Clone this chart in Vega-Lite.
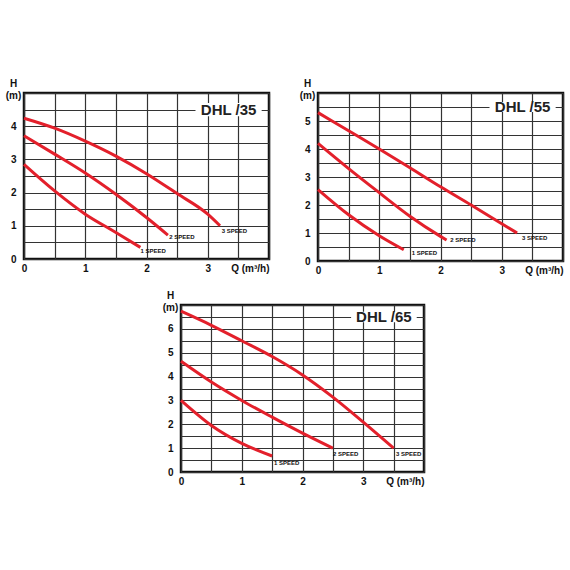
{
  "$schema": "https://vega.github.io/schema/vega-lite/v6.json",
  "background": "white",
  "padding": {"left": 3, "top": 76, "right": 0, "bottom": 5},
  "config": {
    "view": {"stroke": "#111", "strokeWidth": 2.5, "fill": "white"},
    "font": "Liberation Sans",
    "axis": {
      "grid": true,
      "gridColor": "#333",
      "gridWidth": 1.2,
      "gridOpacity": 1,
      "ticks": false,
      "domain": false,
      "labelFont": "Liberation Sans",
      "labelFontWeight": "bold",
      "labelFontSize": 10,
      "labelColor": "#111",
      "labelFlush": false,
      "labelOverlap": false,
      "title": null
    }
  },
  "datasets": {
    "curves": [
      {"model": "DHL /35", "speed": "3", "q": 0, "h": 4.24},
      {"model": "DHL /35", "speed": "3", "q": 0.5, "h": 3.94},
      {"model": "DHL /35", "speed": "3", "q": 1, "h": 3.55},
      {"model": "DHL /35", "speed": "3", "q": 1.5, "h": 3.1},
      {"model": "DHL /35", "speed": "3", "q": 2, "h": 2.57},
      {"model": "DHL /35", "speed": "3", "q": 2.5, "h": 1.97},
      {"model": "DHL /35", "speed": "3", "q": 3, "h": 1.35},
      {"model": "DHL /35", "speed": "3", "q": 3.2, "h": 1.0},
      {"model": "DHL /35", "speed": "2", "q": 0, "h": 3.71},
      {"model": "DHL /35", "speed": "2", "q": 0.5, "h": 3.16},
      {"model": "DHL /35", "speed": "2", "q": 1, "h": 2.59},
      {"model": "DHL /35", "speed": "2", "q": 1.5, "h": 1.95},
      {"model": "DHL /35", "speed": "2", "q": 2, "h": 1.25},
      {"model": "DHL /35", "speed": "2", "q": 2.35, "h": 0.72},
      {"model": "DHL /35", "speed": "1", "q": 0, "h": 2.85},
      {"model": "DHL /35", "speed": "1", "q": 0.5, "h": 2.05},
      {"model": "DHL /35", "speed": "1", "q": 1, "h": 1.35},
      {"model": "DHL /35", "speed": "1", "q": 1.5, "h": 0.8},
      {"model": "DHL /35", "speed": "1", "q": 1.9, "h": 0.35},
      {"model": "DHL /55", "speed": "3", "q": 0, "h": 5.3},
      {"model": "DHL /55", "speed": "3", "q": 0.5, "h": 4.65},
      {"model": "DHL /55", "speed": "3", "q": 1, "h": 4.0},
      {"model": "DHL /55", "speed": "3", "q": 1.5, "h": 3.33},
      {"model": "DHL /55", "speed": "3", "q": 2, "h": 2.65},
      {"model": "DHL /55", "speed": "3", "q": 2.5, "h": 2.0},
      {"model": "DHL /55", "speed": "3", "q": 3, "h": 1.33},
      {"model": "DHL /55", "speed": "3", "q": 3.25, "h": 1.0},
      {"model": "DHL /55", "speed": "2", "q": 0, "h": 4.2},
      {"model": "DHL /55", "speed": "2", "q": 0.5, "h": 3.3},
      {"model": "DHL /55", "speed": "2", "q": 1, "h": 2.44},
      {"model": "DHL /55", "speed": "2", "q": 1.5, "h": 1.6},
      {"model": "DHL /55", "speed": "2", "q": 2, "h": 0.88},
      {"model": "DHL /55", "speed": "2", "q": 2.1, "h": 0.75},
      {"model": "DHL /55", "speed": "1", "q": 0, "h": 2.55},
      {"model": "DHL /55", "speed": "1", "q": 0.5, "h": 1.65},
      {"model": "DHL /55", "speed": "1", "q": 1, "h": 0.9},
      {"model": "DHL /55", "speed": "1", "q": 1.4, "h": 0.4},
      {"model": "DHL /65", "speed": "3", "q": 0, "h": 6.74},
      {"model": "DHL /65", "speed": "3", "q": 0.5, "h": 6.15},
      {"model": "DHL /65", "speed": "3", "q": 1, "h": 5.5},
      {"model": "DHL /65", "speed": "3", "q": 1.5, "h": 4.84},
      {"model": "DHL /65", "speed": "3", "q": 2, "h": 4.07},
      {"model": "DHL /65", "speed": "3", "q": 2.5, "h": 3.14},
      {"model": "DHL /65", "speed": "3", "q": 3, "h": 2.09},
      {"model": "DHL /65", "speed": "3", "q": 3.5, "h": 1.0},
      {"model": "DHL /65", "speed": "2", "q": 0, "h": 4.64},
      {"model": "DHL /65", "speed": "2", "q": 0.5, "h": 3.77},
      {"model": "DHL /65", "speed": "2", "q": 1, "h": 3.0},
      {"model": "DHL /65", "speed": "2", "q": 1.5, "h": 2.3},
      {"model": "DHL /65", "speed": "2", "q": 2, "h": 1.63},
      {"model": "DHL /65", "speed": "2", "q": 2.5, "h": 1.0},
      {"model": "DHL /65", "speed": "1", "q": 0, "h": 3.0},
      {"model": "DHL /65", "speed": "1", "q": 0.5, "h": 1.95},
      {"model": "DHL /65", "speed": "1", "q": 1, "h": 1.2},
      {"model": "DHL /65", "speed": "1", "q": 1.5, "h": 0.67}
    ],
    "labels": [
      {"model": "DHL /35", "text": "1 SPEED", "q": 1.9, "h": 0.25},
      {"model": "DHL /35", "text": "2 SPEED", "q": 2.37, "h": 0.67},
      {"model": "DHL /35", "text": "3 SPEED", "q": 3.23, "h": 0.85},
      {"model": "DHL /55", "text": "1 SPEED", "q": 1.53, "h": 0.29},
      {"model": "DHL /55", "text": "2 SPEED", "q": 2.16, "h": 0.75},
      {"model": "DHL /55", "text": "3 SPEED", "q": 3.33, "h": 0.82},
      {"model": "DHL /65", "text": "1 SPEED", "q": 1.53, "h": 0.36},
      {"model": "DHL /65", "text": "2 SPEED", "q": 2.5, "h": 0.75},
      {"model": "DHL /65", "text": "3 SPEED", "q": 3.54, "h": 0.75}
    ],
    "boxes": [
      {"model": "DHL /35", "q": 2.8, "q2": 3.88, "h": 4.3, "h2": 4.7, "qc": 3.34, "hc": 4.5},
      {"model": "DHL /55", "q": 2.8, "q2": 3.88, "h": 5.32, "h2": 5.68, "qc": 3.34, "hc": 5.5},
      {"model": "DHL /65", "q": 2.8, "q2": 3.88, "h": 6.28, "h2": 6.72, "qc": 3.34, "hc": 6.5}
    ]
  },
  "spacing": 11,
  "vconcat": [
    {
      "spacing": 26,
      "hconcat": [
        {
          "width": 245,
          "height": 166,
          "encoding": {
            "x": {"field": "q", "type": "quantitative",
              "scale": {"domain": [0, 4], "nice": false},
              "axis": {"values": [0, 0.5, 1, 1.5, 2, 2.5, 3, 3.5, 4], "labelPadding": 4,
                "labelExpr": "datum.value == 4 ? 'Q (m³/h)' : (datum.value % 1 == 0 ? format(datum.value, 'd') : '')",
                "labelAlign": {"condition": {"test": "datum.value == 4", "value": "right"}, "value": "center"}}},
            "y": {"field": "h", "type": "quantitative",
              "scale": {"domain": [0, 5], "nice": false},
              "axis": {"values": [0, 0.5, 1, 1.5, 2, 2.5, 3, 3.5, 4, 4.5, 5],
                "labelExpr": "datum.value == 5 ? ['H', '(m)'] : (datum.value % 1 == 0 ? format(datum.value, 'd') : '')",
                "labelAlign": {"condition": {"test": "datum.value == 5", "value": "center"}, "value": "right"},
                "labelOffset": {"condition": {"test": "datum.value == 5", "value": -10}, "value": 0},
                "labelPadding": {"condition": {"test": "datum.value == 5", "value": 11}, "value": 8}}}
          },
          "layer": [
            {
              "data": {"name": "boxes"},
              "transform": [{"filter": "datum.model == 'DHL /35'"}],
              "mark": {"type": "rect", "fill": "white"},
              "encoding": {"x2": {"field": "q2"}, "y2": {"field": "h2"}}
            },
            {
              "data": {"name": "curves"},
              "transform": [{"filter": "datum.model == 'DHL /35'"}],
              "mark": {"type": "line", "color": "#e3202b", "strokeWidth": 3, "interpolate": "monotone"},
              "encoding": {"detail": {"field": "speed"}}
            },
            {
              "data": {"name": "labels"},
              "transform": [{"filter": "datum.model == 'DHL /35'"}],
              "mark": {"type": "text", "align": "left", "baseline": "middle", "fontSize": 6, "fontWeight": "bold", "color": "#111"},
              "encoding": {"text": {"field": "text"}}
            },
            {
              "data": {"name": "boxes"},
              "transform": [{"filter": "datum.model == 'DHL /35'"}],
              "mark": {"type": "text", "align": "center", "baseline": "middle", "fontSize": 15, "fontWeight": "bold", "color": "#222"},
              "encoding": {"x": {"field": "qc", "type": "quantitative"}, "y": {"field": "hc", "type": "quantitative"}, "text": {"field": "model"}}
            }
          ]
        },
        {
          "width": 245,
          "height": 168,
          "encoding": {
            "x": {"field": "q", "type": "quantitative",
              "scale": {"domain": [0, 4], "nice": false},
              "axis": {"values": [0, 0.5, 1, 1.5, 2, 2.5, 3, 3.5, 4], "labelPadding": 4,
                "labelExpr": "datum.value == 4 ? 'Q (m³/h)' : (datum.value % 1 == 0 ? format(datum.value, 'd') : '')",
                "labelAlign": {"condition": {"test": "datum.value == 4", "value": "right"}, "value": "center"}}},
            "y": {"field": "h", "type": "quantitative",
              "scale": {"domain": [0, 6], "nice": false},
              "axis": {"values": [0, 0.5, 1, 1.5, 2, 2.5, 3, 3.5, 4, 4.5, 5, 5.5, 6],
                "labelExpr": "datum.value == 6 ? ['H', '(m)'] : (datum.value % 1 == 0 ? format(datum.value, 'd') : '')",
                "labelAlign": {"condition": {"test": "datum.value == 6", "value": "center"}, "value": "right"},
                "labelOffset": {"condition": {"test": "datum.value == 6", "value": -10}, "value": 0},
                "labelPadding": {"condition": {"test": "datum.value == 6", "value": 11}, "value": 8}}}
          },
          "layer": [
            {
              "data": {"name": "boxes"},
              "transform": [{"filter": "datum.model == 'DHL /55'"}],
              "mark": {"type": "rect", "fill": "white"},
              "encoding": {"x2": {"field": "q2"}, "y2": {"field": "h2"}}
            },
            {
              "data": {"name": "curves"},
              "transform": [{"filter": "datum.model == 'DHL /55'"}],
              "mark": {"type": "line", "color": "#e3202b", "strokeWidth": 3, "interpolate": "monotone"},
              "encoding": {"detail": {"field": "speed"}}
            },
            {
              "data": {"name": "labels"},
              "transform": [{"filter": "datum.model == 'DHL /55'"}],
              "mark": {"type": "text", "align": "left", "baseline": "middle", "fontSize": 6, "fontWeight": "bold", "color": "#111"},
              "encoding": {"text": {"field": "text"}}
            },
            {
              "data": {"name": "boxes"},
              "transform": [{"filter": "datum.model == 'DHL /55'"}],
              "mark": {"type": "text", "align": "center", "baseline": "middle", "fontSize": 15, "fontWeight": "bold", "color": "#222"},
              "encoding": {"x": {"field": "qc", "type": "quantitative"}, "y": {"field": "hc", "type": "quantitative"}, "text": {"field": "model"}}
            }
          ]
        }
      ]
    },
    {
      "spacing": 0,
      "hconcat": [
        {
          "width": 136,
          "height": 10,
          "view": {"stroke": null, "fill": null},
          "data": {"values": []},
          "mark": {"type": "text", "text": ""}
        },
        {
          "width": 243,
          "height": 167,
          "encoding": {
            "x": {"field": "q", "type": "quantitative",
              "scale": {"domain": [0, 4], "nice": false},
              "axis": {"values": [0, 0.5, 1, 1.5, 2, 2.5, 3, 3.5, 4], "labelPadding": 4,
                "labelExpr": "datum.value == 4 ? 'Q (m³/h)' : (datum.value % 1 == 0 ? format(datum.value, 'd') : '')",
                "labelAlign": {"condition": {"test": "datum.value == 4", "value": "right"}, "value": "center"}}},
            "y": {"field": "h", "type": "quantitative",
              "scale": {"domain": [0, 7], "nice": false},
              "axis": {"values": [0, 0.5, 1, 1.5, 2, 2.5, 3, 3.5, 4, 4.5, 5, 5.5, 6, 6.5, 7],
                "labelExpr": "datum.value == 7 ? ['H', '(m)'] : (datum.value % 1 == 0 ? format(datum.value, 'd') : '')",
                "labelAlign": {"condition": {"test": "datum.value == 7", "value": "center"}, "value": "right"},
                "labelOffset": {"condition": {"test": "datum.value == 7", "value": -10}, "value": 0},
                "labelPadding": {"condition": {"test": "datum.value == 7", "value": 11}, "value": 8}}}
          },
          "layer": [
            {
              "data": {"name": "boxes"},
              "transform": [{"filter": "datum.model == 'DHL /65'"}],
              "mark": {"type": "rect", "fill": "white"},
              "encoding": {"x2": {"field": "q2"}, "y2": {"field": "h2"}}
            },
            {
              "data": {"name": "curves"},
              "transform": [{"filter": "datum.model == 'DHL /65'"}],
              "mark": {"type": "line", "color": "#e3202b", "strokeWidth": 3, "interpolate": "monotone"},
              "encoding": {"detail": {"field": "speed"}}
            },
            {
              "data": {"name": "labels"},
              "transform": [{"filter": "datum.model == 'DHL /65'"}],
              "mark": {"type": "text", "align": "left", "baseline": "middle", "fontSize": 6, "fontWeight": "bold", "color": "#111"},
              "encoding": {"text": {"field": "text"}}
            },
            {
              "data": {"name": "boxes"},
              "transform": [{"filter": "datum.model == 'DHL /65'"}],
              "mark": {"type": "text", "align": "center", "baseline": "middle", "fontSize": 15, "fontWeight": "bold", "color": "#222"},
              "encoding": {"x": {"field": "qc", "type": "quantitative"}, "y": {"field": "hc", "type": "quantitative"}, "text": {"field": "model"}}
            }
          ]
        }
      ]
    }
  ]
}
